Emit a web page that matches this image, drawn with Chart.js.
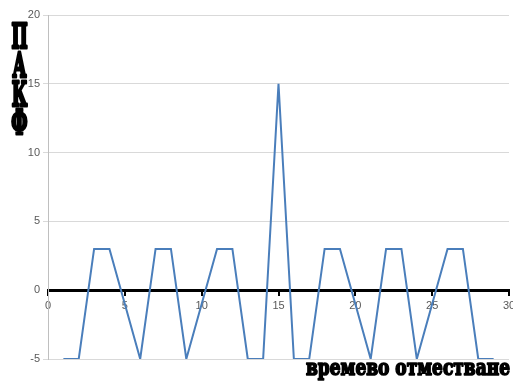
<!DOCTYPE html>
<html>
<head>
<meta charset="utf-8">
<script src="https://cdn.jsdelivr.net/npm/chart.js@4/dist/chart.umd.min.js"></script>
<style>
  html, body { margin: 0; padding: 0; background: #fff; }
  #wrap { width: 513px; height: 383px; position: relative; }
</style>
</head>
<body>
<div id="wrap"><canvas id="c" width="513" height="383"></canvas></div>
<script>
// Lag values (времево отместване) and the periodic autocorrelation (ПАКФ)
const lags = [1, 2, 3, 4, 5, 6, 7, 8, 9, 10, 11, 12, 13, 14, 15,
              16, 17, 18, 19, 20, 21, 22, 23, 24, 25, 26, 27, 28, 29];
const pakf = [-5, -5, 3, 3, -1, -5, 3, 3, -5, -1, 3, 3, -5, -5, 15,
              -5, -5, 3, 3, -1, -5, 3, 3, -5, -1, 3, 3, -5, -5];
const xTicks = [0, 5, 10, 15, 20, 25, 30];
const yTicks = [-5, 0, 5, 10, 15, 20];

const yTitle = ['П', 'А', 'К', 'Ф'];
const xTitle = 'времево отместване';

const titleFont = "'DejaVu Serif Condensed', 'DejaVu Serif', serif";

// Heavy text: fill plus a stroke of the same colour to thicken strokes
function heavyText(ctx, text, x, y, weight) {
  ctx.lineWidth = weight;
  ctx.lineJoin = 'round';
  ctx.strokeText(text, x, y);
  ctx.fillText(text, x, y);
}

// Draws the stacked vertical axis title and the horizontal axis title
const axisTitles = {
  id: 'axisTitles',
  afterDraw(chart) {
    const ctx = chart.ctx;
    ctx.save();
    ctx.fillStyle = '#000';
    ctx.strokeStyle = '#000';
    ctx.textAlign = 'center';
    ctx.textBaseline = 'middle';
    ctx.font = 'bold 34px ' + titleFont;
    const ys = [39, 68, 97, 125];
    yTitle.forEach((ch, i) => {
      ctx.save();
      ctx.translate(19.5, ys[i]);
      ctx.scale(0.56, 1);
      heavyText(ctx, ch, 0, 0, 3);
      ctx.restore();
    });
    ctx.font = 'bold 22px ' + titleFont;
    const w = ctx.measureText(xTitle).width;
    const target = 204;
    ctx.translate(510, 369);
    ctx.scale(target / w, 1);
    ctx.textAlign = 'right';
    heavyText(ctx, xTitle, 0, 0, 1.6);
    ctx.restore();
  }
};

new Chart(document.getElementById('c'), {
  type: 'line',
  data: {
    datasets: [{
      data: lags.map((x, i) => ({ x: x, y: pakf[i] })),
      borderColor: '#4a7ebb',
      borderWidth: 2,
      pointRadius: 0,
      tension: 0,
      fill: false
    }]
  },
  options: {
    responsive: false,
    animation: false,
    layout: { padding: { left: 0, right: 4, top: 15, bottom: 24 } },
    plugins: { legend: { display: false }, tooltip: { enabled: false } },
    scales: {
      x: {
        type: 'linear',
        position: { y: 0 },
        min: 0, max: 30,
        z: 1,
        afterBuildTicks(scale) { scale.ticks = xTicks.map(v => ({ value: v })); },
        afterFit(scale) { scale.paddingLeft = 0; scale.paddingRight = 0; },
        grid: { drawOnChartArea: false, drawTicks: true, tickLength: 4, color: '#000', lineWidth: 2 },
        border: { display: true, color: '#000', width: 3 },
        ticks: { color: '#595959', font: { family: 'Liberation Sans', size: 11 }, padding: 5, maxRotation: 0 }
      },
      y: {
        type: 'linear',
        min: -5, max: 20,
        afterBuildTicks(scale) { scale.ticks = yTicks.map(v => ({ value: v })); },
        afterFit(scale) { scale.width = 48; scale.paddingTop = 0; scale.paddingBottom = 0; },
        grid: {
          color: ctx => (ctx.tick && ctx.tick.value === 0) ? 'rgba(0,0,0,0)' : '#d9d9d9',
          tickLength: 5
        },
        border: { color: '#bfbfbf' },
        ticks: { color: '#595959', font: { family: 'Liberation Sans', size: 11 }, padding: 3 }
      }
    }
  },
  plugins: [axisTitles]
});
</script>
</body>
</html>
